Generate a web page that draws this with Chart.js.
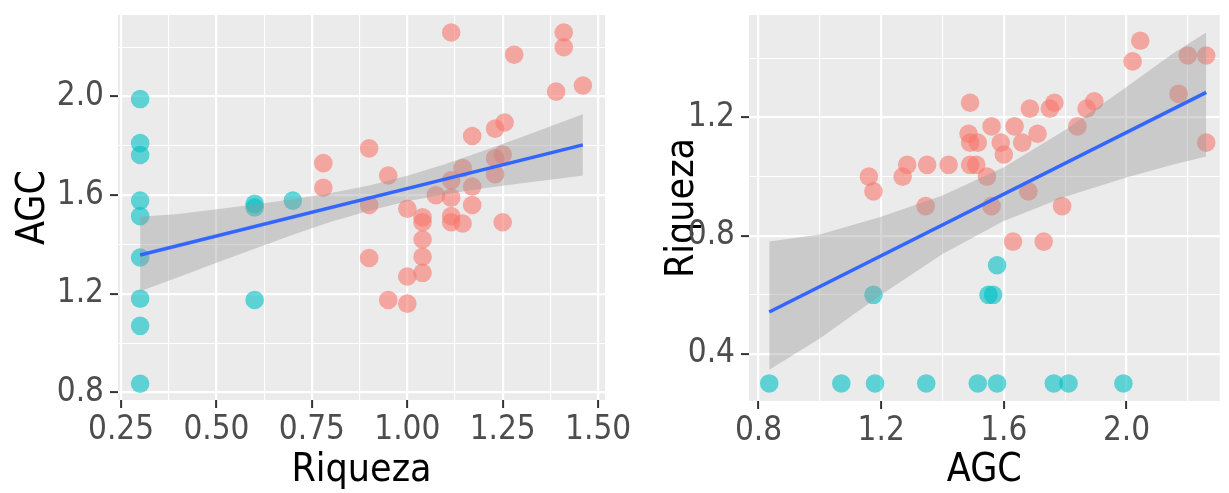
<!DOCTYPE html>
<html>
<head>
<meta charset="utf-8">
<script src="https://cdn.jsdelivr.net/npm/chart.js@4.4.1/dist/chart.umd.min.js"></script>
<style>
  html, body { margin: 0; padding: 0; background: #fff; }
  #wrap { position: relative; width: 1229px; height: 493px; overflow: hidden; }
  #left { position: absolute; left: 0; top: 0; }
  #right { position: absolute; left: 620px; top: 0; }
</style>
</head>
<body>
<div id="wrap">
  <canvas id="left" width="640" height="493"></canvas>
  <canvas id="right" width="609" height="493"></canvas>
</div>
<script>
// observations, split by group (Riqueza, AGC pairs)
const riqRed = [1.115, 1.41, 1.41, 1.28, 1.39, 1.46, 1.255, 1.23, 1.17, 0.90,
                0.78, 0.78, 0.95, 1.25, 1.23, 1.23, 1.17, 1.17, 1.145, 1.115,
                1.075, 1.115, 1.0, 0.90, 1.04, 1.04, 1.115, 1.115, 1.145, 1.25,
                1.04, 1.04, 1.0, 1.04, 0.90, 0.95, 1.0];
const agcRed = [2.26, 2.26, 2.20, 2.17, 2.02, 2.045, 1.895, 1.87, 1.84, 1.79,
                1.73, 1.63, 1.68, 1.765, 1.75, 1.685, 1.635, 1.56, 1.71, 1.66,
                1.60, 1.59, 1.545, 1.56, 1.51, 1.49, 1.49, 1.515, 1.485, 1.49,
                1.42, 1.35, 1.27, 1.285, 1.345, 1.175, 1.16];
const riqCyan = [0.3, 0.3, 0.3, 0.3, 0.3, 0.3, 0.3, 0.3, 0.3, 0.6, 0.6, 0.6, 0.7];
const agcCyan = [0.835, 1.07, 1.18, 1.347, 1.515, 1.578, 1.763, 1.811, 1.99, 1.175, 1.55, 1.565, 1.578];

// AGC ~ Riqueza fit, with its band
const fitAX = [0.3, 1.46];
const fitAY = [1.357, 1.804];
const bandAX = [0.3, 0.4, 0.5, 0.6, 0.7, 0.8, 0.9, 1.0, 1.1, 1.2, 1.3, 1.4, 1.46];
const bandAHi = [1.512, 1.524, 1.543, 1.562, 1.583, 1.609, 1.639, 1.679, 1.726, 1.780, 1.836, 1.894, 1.928];
const bandALo = [1.210, 1.267, 1.326, 1.383, 1.439, 1.492, 1.537, 1.575, 1.604, 1.628, 1.648, 1.668, 1.680];

// Riqueza ~ AGC fit, with its band
const fitBX = [0.835, 2.26];
const fitBY = [0.542, 1.285];
const bandBX = [0.835, 1.0, 1.2, 1.4, 1.6, 1.8, 2.0, 2.15, 2.26];
const bandBHi = [0.780, 0.804, 0.864, 0.936, 1.032, 1.158, 1.303, 1.416, 1.488];
const bandBLo = [0.346, 0.452, 0.600, 0.738, 0.850, 0.932, 0.997, 1.040, 1.068];

// axis ticks
const riqTicks = [0.25, 0.5, 0.75, 1.0, 1.25, 1.5];
const riqLabels = ['0.25', '0.50', '0.75', '1.00', '1.25', '1.50'];
const riqMinor = [0.375, 0.625, 0.875, 1.125, 1.375];
const agcTicks = [0.8, 1.2, 1.6, 2.0];
const agcLabels = ['0.8', '1.2', '1.6', '2.0'];
const agcMinor = [1.0, 1.4, 1.8, 2.2];
const riqTicksB = [0.4, 0.8, 1.2];
const riqLabelsB = ['0.4', '0.8', '1.2'];
const riqMinorB = [0.6, 1.0, 1.4];

const RED = 'rgba(248, 118, 109, 0.6)';
const CYAN = 'rgba(0, 191, 196, 0.6)';
const FONT = '"DejaVu Sans Condensed", "Liberation Sans", sans-serif';

Chart.defaults.animation = false;
Chart.defaults.font.family = FONT;

const panelBg = {
    id: 'panelBg',
    beforeDraw(chart) {
        const {ctx, chartArea: a} = chart;
        ctx.save();
        ctx.fillStyle = '#EBEBEB';
        ctx.fillRect(a.left, a.top, a.right - a.left, a.bottom - a.top);
        ctx.restore();
    }
};

function pts(xs, ys) {
    return xs.map((x, i) => ({x: x, y: ys[i]}));
}

function axis(pos, min, max, major, labels, minor, title, size, pad) {
    const all = major.concat(minor).sort((a, b) => a - b);
    const isMajor = v => major.indexOf(v) !== -1;
    return {
        type: 'linear',
        position: pos,
        min: min,
        max: max,
        afterBuildTicks: s => { s.ticks = all.map(v => ({value: v})); },
        afterFit: s => {
            if (pos === 'left') s.width = size; else s.height = size;
            // let edge labels hang over the panel instead of shrinking it
            s.paddingLeft = s.paddingRight = s.paddingTop = s.paddingBottom = 0;
        },
        border: {display: false},
        grid: {
            color: '#FFFFFF',
            lineWidth: c => (c.tick && isMajor(c.tick.value)) ? 2.2 : 1.1,
            tickColor: c => (c.tick && isMajor(c.tick.value)) ? '#333333' : 'rgba(0,0,0,0)',
            tickWidth: 2,
            tickLength: 8
        },
        ticks: {
            autoSkip: false,
            maxRotation: 0,
            padding: 6,
            color: '#4D4D4D',
            font: {size: 33, lineHeight: 1},
            callback: v => isMajor(v) ? labels[major.indexOf(v)] : ''
        },
        title: {
            display: true,
            text: title,
            color: '#000000',
            font: {size: 39, lineHeight: 1},
            padding: pad
        }
    };
}

function makeChart(id, points, fitX, fitY, bandX, bandHi, bandLo, xAxis, yAxis, padRight) {
    new Chart(document.getElementById(id), {
        type: 'scatter',
        data: {
            datasets: [
                {
                    type: 'line', order: 0,
                    data: pts(fitX, fitY),
                    borderColor: '#3366FF', borderWidth: 3.5,
                    pointRadius: 0, fill: false
                },
                {
                    type: 'line', order: 1,
                    data: pts(bandX, bandHi),
                    borderWidth: 0, pointRadius: 0,
                    backgroundColor: 'rgba(153, 153, 153, 0.4)',
                    fill: '+1'
                },
                {
                    type: 'line', order: 1,
                    data: pts(bandX, bandLo),
                    borderWidth: 0, pointRadius: 0, fill: false
                },
                {
                    order: 2,
                    data: points.red,
                    backgroundColor: RED, borderWidth: 0, pointRadius: 9.3
                },
                {
                    order: 2,
                    data: points.cyan,
                    backgroundColor: CYAN, borderWidth: 0, pointRadius: 9.3
                }
            ]
        },
        options: {
            responsive: false,
            devicePixelRatio: 1,
            layout: {padding: {top: 15, right: padRight, left: 0, bottom: 0}},
            plugins: {legend: {display: false}, tooltip: {enabled: false}},
            scales: {x: xAxis, y: yAxis}
        },
        plugins: [panelBg]
    });
}

makeChart('left',
    {red: pts(riqRed, agcRed), cyan: pts(riqCyan, agcCyan)},
    fitAX, fitAY, bandAX, bandAHi, bandALo,
    axis('bottom', 0.242, 1.518, riqTicks, riqLabels, riqMinor, 'Riqueza', 93, {top: 0, bottom: 3}),
    axis('left', 0.769, 2.331, agcTicks, agcLabels, agcMinor, 'AGC', 118, {top: 14, bottom: 0}),
    35);

makeChart('right',
    {red: pts(agcRed, riqRed), cyan: pts(agcCyan, riqCyan)},
    fitBX, fitBY, bandBX, bandBHi, bandBLo,
    axis('bottom', 0.769, 2.304, agcTicks, agcLabels, agcMinor, 'AGC', 92, {top: 0, bottom: 3}),
    axis('left', 0.2406, 1.547, riqTicksB, riqLabelsB, riqMinorB, 'Riqueza', 129, {top: 43, bottom: 0}),
    0);
</script>
</body>
</html>
